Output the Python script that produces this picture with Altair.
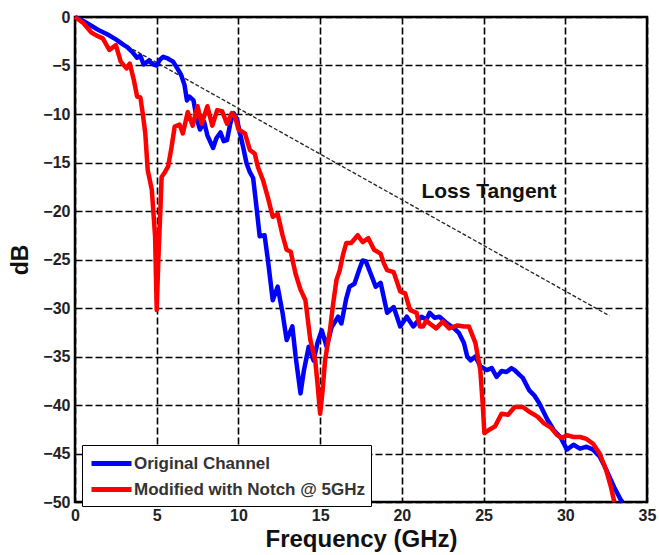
import altair as alt
import pandas as pd

# ---- data ----
blue_f = [0, 0.5, 1.0, 1.5, 2.0, 2.5, 3.0, 3.2, 3.5, 3.8, 4.0, 4.2, 4.5, 4.8, 5.0, 5.2, 5.4, 5.7, 6.0,
          6.3, 6.5, 6.7, 6.85, 7.0, 7.25, 7.45, 7.65, 7.9, 8.1, 8.45, 8.65, 8.9, 9.1, 9.3, 9.5, 9.7,
          9.9, 10.1, 10.3, 10.5, 10.7, 10.9, 11.1, 11.3, 11.6, 11.8, 12.1, 12.4, 12.7, 12.95, 13.3,
          13.5, 13.8, 14.0, 14.3, 14.6, 14.85, 15.1, 15.4, 15.7, 16.1, 16.3, 16.6, 16.8, 17.1, 17.4,
          17.6, 17.8, 18.1, 18.4, 18.7, 19.1, 19.5, 19.9, 20.3, 20.7, 21.2, 21.5, 21.7, 22.0, 22.3,
          22.7, 23.2, 23.5, 23.8, 24.0, 24.2, 24.5, 24.8, 25.2, 25.5, 25.8, 26.1, 26.4, 26.7, 26.9,
          27.2, 27.4, 27.8, 28.1, 28.4, 28.9, 29.3, 29.7, 30.1, 30.5, 30.9, 31.3, 31.7, 32.1, 32.4,
          32.7, 33.0, 33.4, 33.5]
blue_db = [0, -0.4, -0.9, -1.4, -1.8, -2.3, -2.9, -3.1, -3.6, -4.2, -4.0, -4.9, -4.5, -4.9, -5.0, -4.4,
           -4.1, -4.3, -4.6, -5.4, -6.0, -7.0, -8.6, -8.2, -8.6, -10.5, -11.6, -10.8, -12.2, -13.5,
           -12.5, -11.9, -12.8, -12.7, -11.0, -9.9, -10.5, -12.0, -13.5, -15.1, -16.0, -16.6, -19.5,
           -22.6, -22.5, -25.0, -29.2, -27.8, -30.5, -33.3, -31.9, -35.0, -38.8, -36.5, -34.0, -35.4,
           -33.5, -32.3, -34.0, -32.0, -30.9, -31.6, -29.0, -27.8, -27.5, -26.0, -25.1, -25.2, -26.5,
           -27.8, -27.4, -30.5, -29.9, -31.9, -30.9, -31.9, -30.9, -31.2, -30.5, -31.0, -30.9, -31.5,
           -32.1, -32.6, -33.6, -35.0, -35.4, -35.0, -36.0, -36.4, -36.2, -37.1, -36.5, -36.6, -36.2,
           -36.4, -36.9, -37.2, -38.5, -39.0, -39.8, -41.5, -42.6, -43.3, -44.6, -44.1, -44.5, -44.3,
           -44.6, -45.3, -46.3, -47.4, -48.5, -49.8, -50.0]

red_f = [0, 0.5, 1.0, 1.3, 1.7, 2.1, 2.5, 2.8, 3.15, 3.35, 3.6, 3.8, 4.0, 4.15, 4.3, 4.45, 4.7, 4.9,
         5.0, 5.1, 5.2, 5.3, 5.5, 5.7, 5.9, 6.1, 6.4, 6.6, 6.9, 7.2, 7.5, 7.75, 8.1, 8.4, 8.7, 9.0,
         9.3, 9.6, 9.8, 10.0, 10.4, 10.7, 11.0, 11.2, 11.5, 11.8, 12.1, 12.4, 12.7, 12.95, 13.2, 13.5,
         13.8, 14.1, 14.4, 14.7, 14.85, 15.0, 15.15, 15.3, 15.6, 15.8, 16.0, 16.2, 16.4, 16.6, 16.9,
         17.3, 17.6, 17.95, 18.3, 18.7, 18.9, 19.1, 19.5, 19.9, 20.2, 20.5, 20.9, 21.1, 21.3, 21.5,
         21.7, 22.1, 22.5, 22.9, 23.4, 23.8, 24.1, 24.5, 24.8, 24.95, 25.05, 25.3, 25.7, 26.1, 26.5,
         26.9, 27.4, 27.8, 28.3, 28.7, 29.1, 29.5, 29.8, 30.1, 30.5, 30.9, 31.3, 31.7, 32.1, 32.5,
         32.8, 33.0]
red_db = [0, -0.6, -1.6, -1.9, -2.2, -3.4, -2.9, -4.6, -5.3, -4.8, -6.5, -8.2, -8.3, -10.0, -12.0,
          -15.8, -17.8, -22.6, -30.2, -25.0, -20.9, -16.5, -16.0, -15.4, -13.5, -11.3, -11.1, -12.0,
          -9.8, -11.2, -9.2, -11.0, -9.2, -11.2, -9.6, -9.7, -11.0, -9.9, -10.3, -11.6, -12.0, -13.7,
          -14.1, -15.5, -16.8, -18.6, -20.6, -20.3, -22.5, -24.0, -24.2, -26.5, -28.1, -29.2, -33.3,
          -35.4, -38.0, -40.9, -38.5, -35.4, -32.3, -29.5, -27.1, -26.1, -24.5, -23.3, -23.3, -22.5,
          -23.2, -22.8, -24.0, -24.4, -25.4, -26.1, -26.3, -28.3, -28.5, -30.2, -30.5, -31.9, -31.9,
          -31.3, -31.6, -32.1, -31.4, -32.1, -31.8, -31.9, -31.9, -33.6, -36.4, -40.0, -42.9, -42.6,
          -42.2, -40.9, -41.0, -40.2, -40.2, -40.7, -41.2, -41.9, -42.3, -43.1, -43.4, -43.1, -43.3,
          -43.3, -43.5, -44.0, -45.0, -46.7, -48.5, -50.0]

series_names = ["Original Channel", "Modified with Notch @ 5GHz"]
series_colors = ["#0000FF", "#FF0000"]

tangent_f = [0, 32.7]
tangent_db = [0, -30.8]

annot_f = [21.2]
annot_db = [-18.7]
annot_text = ["Loss Tangent"]

x_ticks = [0, 5, 10, 15, 20, 25, 30, 35]
y_ticks = [0, -5, -10, -15, -20, -25, -30, -35, -40, -45, -50]

# ---- tables ----
df = pd.concat([
    pd.DataFrame({"f": blue_f, "db": blue_db, "s": series_names[0], "k": 0}),
    pd.DataFrame({"f": red_f, "db": red_db, "s": series_names[1], "k": 1}),
], ignore_index=True)
tan_df = pd.DataFrame({"f": tangent_f, "db": tangent_db})
ann_df = pd.DataFrame({"f": annot_f, "db": annot_db, "t": annot_text})

FONT = "Liberation Sans"

xs = alt.Scale(domain=[0, 35], nice=False)
ys = alt.Scale(domain=[-50, 0], nice=False)

x_axis = alt.Axis(values=x_ticks, title="Frequency (GHz)", grid=True, ticks=False,
                  labelFontSize=16, labelFontWeight="bold", labelColor="#222",
                  labelPadding=5, titleFontSize=24, titleFontWeight="bold",
                  titlePadding=4, titleColor="#111", domain=False, labelFlush=False)
y_axis = alt.Axis(values=y_ticks, title="dB", grid=True, ticks=False,
                  labelFontSize=16, labelFontWeight="bold", labelColor="#222",
                  labelPadding=5, titleFontSize=23, titleFontWeight="bold",
                  titlePadding=10, titleColor="#111", domain=False, labelFlush=False)

lines = alt.Chart(df).mark_line(strokeWidth=4.5, strokeJoin="round").encode(
    x=alt.X("f:Q", scale=xs, axis=x_axis),
    y=alt.Y("db:Q", scale=ys, axis=y_axis),
    color=alt.Color("s:N", scale=alt.Scale(domain=series_names, range=series_colors),
                    sort=series_names,
                    legend=alt.Legend(title=None, orient="none", legendX=7, legendY=428,
                                      symbolType="M-2,0H2", symbolStrokeWidth=5,
                                      symbolSize=400, symbolOffset=11, labelOffset=10,
                                      labelFontSize=17,
                                      labelFontWeight="bold", labelColor="#333",
                                      labelFont=FONT, rowPadding=3, padding=6,
                                      strokeColor="black", fillColor="white",
                                      labelLimit=400)),
    detail="k:N",
    order="f:Q",
)

tangent = alt.Chart(tan_df).mark_line(color="#222", strokeWidth=1.3, strokeDash=[4, 2]).encode(
    x=alt.X("f:Q", scale=xs), y=alt.Y("db:Q", scale=ys))

label = alt.Chart(ann_df).mark_text(align="left", baseline="alphabetic", fontSize=21,
                                    fontWeight="bold", font=FONT, color="#111").encode(
    x=alt.X("f:Q", scale=xs), y=alt.Y("db:Q", scale=ys), text="t:N")

chart = alt.layer(tangent, lines, label).properties(
    width=572, height=485,
    autosize=alt.AutoSizeParams(type="none"),
    padding={"left": 75, "top": 17, "right": 12, "bottom": 53},
    background="white",
).configure_view(stroke="black", strokeWidth=2.5).configure_axis(
    gridColor="black", gridDash=[7, 3], gridWidth=1.6, gridOpacity=1,
    labelFont=FONT, titleFont=FONT,
)

chart.save("out.html", embed_options={"renderer": "svg", "actions": False})
